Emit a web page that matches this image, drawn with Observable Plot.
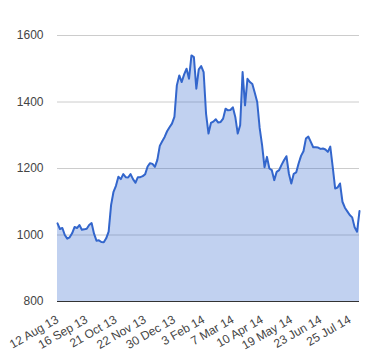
<!DOCTYPE html>
<html><head><meta charset="utf-8">
<script src="https://cdn.jsdelivr.net/npm/d3@7"></script>
<script src="https://cdn.jsdelivr.net/npm/@observablehq/plot@0.6"></script>
<style>body{margin:0;background:#fff} #chart svg{display:block}</style>
</head><body><div id="chart"></div>
<script>
// one value every ~2 trading days
const values = [
 1035,1018,1021,1000,989,993,1005,1024,1021,1030,1016,1017,1019,1030,1036,1004,983,984,979,978,
 990,1010,1090,1130,1148,1175,1168,1183,1174,1173,1183,1168,1157,1174,1174,1177,1183,1206,1216,1214,
 1205,1226,1268,1282,1295,1312,1324,1335,1355,1450,1480,1460,1483,1500,1470,1540,1535,1440,1498,1508,
 1490,1364,1305,1337,1341,1348,1338,1340,1350,1380,1375,1376,1384,1355,1305,1330,1490,1390,1470,1460,
 1454,1428,1400,1322,1270,1204,1235,1200,1195,1165,1190,1195,1211,1225,1237,1185,1155,1184,1188,1215,
 1238,1252,1290,1296,1280,1264,1264,1263,1259,1260,1257,1250,1266,1205,1140,1143,1155,1100,1082,1071,
 1060,1053,1023,1010,1072
];
const tickLabels = ["12 Aug 13","16 Sep 13","21 Oct 13","22 Nov 13","30 Dec 13","3 Feb 14","7 Mar 14","10 Apr 14","19 May 14","23 Jun 14","25 Jul 14"];
const tickIndex = [0,12,24,36,48,60,72,84,96,108,120];
const yTicks = [800,1000,1200,1400,1600];

const data = values.map((v, i) => ({i, v}));
const chart = Plot.plot({
  width: 380, height: 360,
  marginLeft: 57, marginRight: 21, marginTop: 35, marginBottom: 59,
  style: {fontFamily: "Arial, 'Liberation Sans', sans-serif", fontSize: "12px", color: "#444", background: "#fff"},
  x: {domain: [0, values.length - 1]},
  y: {domain: [800, 1600]},
  marks: [
    Plot.ruleY(yTicks.slice(1), {stroke: "#ccc", strokeOpacity: 1}),
    Plot.areaY(data, {x: "i", y1: 800, y2: "v", fill: "#3366cc", fillOpacity: 0.3}),
    Plot.lineY(data, {x: "i", y: "v", stroke: "#3366cc", strokeWidth: 2}),
    Plot.ruleY([800], {stroke: "#333"}),
    Plot.axisY({ticks: yTicks, tickFormat: d => String(d), tickSize: 0, tickPadding: 14, label: null}),
    Plot.axisX({ticks: tickIndex, tickFormat: d => tickLabels[tickIndex.indexOf(d)], tickRotate: -30, tickSize: 0, tickPadding: 17, label: null})
  ]
});
document.getElementById("chart").append(chart);
</script></body></html>
